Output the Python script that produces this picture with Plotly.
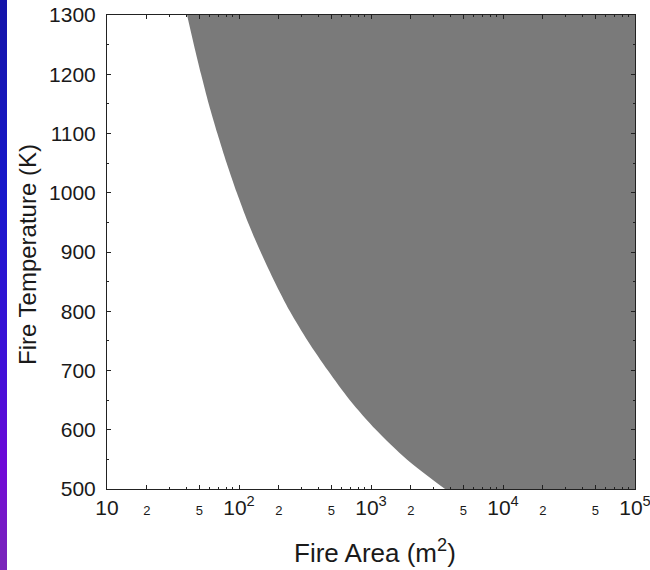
import plotly.graph_objects as go

# Boundary of the shaded region: fire temperature (K) vs minimum fire area (m^2)
temperature_k = [1300, 1250, 1200, 1150, 1100, 1050, 1000, 950, 900,
                 850, 800, 750, 700, 650, 600, 550, 500]
fire_area_m2 = [40.4, 45.5, 51.6, 59, 68.6, 80.7, 96.3, 117, 146,
                186, 243, 332, 472, 692, 1090, 1870, 3640]

area_max = 1e5
temp_range = [500, 1300]

# Tick labels
x_major_vals = [10, 20, 50, 100, 200, 500, 1000, 2000, 5000, 10000, 20000, 50000, 100000]
small = "<span style='font-size:13px'>{}</span>"
x_major_text = ["10", small.format(2), small.format(5),
                "10<sup>2</sup>", small.format(2), small.format(5),
                "10<sup>3</sup>", small.format(2), small.format(5),
                "10<sup>4</sup>", small.format(2), small.format(5),
                "10<sup>5</sup>"]
x_minor_vals = [m * 10 ** d for d in range(1, 5) for m in range(2, 10)]
y_major_vals = [500, 600, 700, 800, 900, 1000, 1100, 1200, 1300]
y_minor_vals = [550, 650, 750, 850, 950, 1050, 1150, 1250]

fig = go.Figure()

# Curve (left edge of the shaded region)
fig.add_trace(go.Scatter(
    x=fire_area_m2, y=temperature_k, mode="lines",
    line=dict(width=0, shape="spline", smoothing=0.8, color="#7a7a7a"),
    hoverinfo="skip", showlegend=False,
))
# Right edge; fill back to the curve
fig.add_trace(go.Scatter(
    x=[area_max] * len(temperature_k), y=temperature_k, mode="lines",
    line=dict(width=0, color="#7a7a7a"),
    fill="tonextx", fillcolor="#7a7a7a",
    hoverinfo="skip", showlegend=False,
))

font = "Liberation Sans, Arial, Helvetica, sans-serif"

L, R, T, B = 107, 15, 15, 81
W, H = 650, 570
pw, ph = W - L - R, H - T - B


def px_x(px):
    return (px - L) / pw


def px_y(py):
    return (H - B - py) / ph


# Blue-violet strip along the left edge of the page
stops = [(0.0, (20, 20, 168)), (0.35, (24, 24, 204)), (0.65, (64, 16, 216)),
         (0.82, (112, 8, 216)), (1.0, (122, 40, 184))]


def strip_colour(f):
    for (f0, c0), (f1, c1) in zip(stops[:-1], stops[1:]):
        if f0 <= f <= f1:
            t = (f - f0) / (f1 - f0)
            return "rgb(%d,%d,%d)" % tuple(round(a + (b - a) * t) for a, b in zip(c0, c1))
    return "rgb(%d,%d,%d)" % stops[-1][1]


n_bands = 57
band = H / n_bands
shapes = []
for i in range(n_bands):
    y0, y1 = i * band, (i + 1) * band
    shapes.append(dict(
        type="rect", xref="paper", yref="paper", layer="below",
        x0=px_x(0), x1=px_x(7), y0=px_y(y1 + 0.5), y1=px_y(y0),
        fillcolor=strip_colour((i + 0.5) / n_bands), line=dict(width=0),
    ))

axis_common = dict(
    ticks="inside", ticklen=4, tickwidth=1, tickcolor="#222",
    showline=True, linecolor="#222", linewidth=1, mirror="ticks",
    showgrid=False, zeroline=False, automargin=False,
    tickfont=dict(size=21), ticklabeloverflow="allow",
)

fig.update_layout(
    width=W, height=H,
    margin=dict(l=L, r=R, t=T, b=B),
    paper_bgcolor="white", plot_bgcolor="white",
    font=dict(family=font, color="#1a1a1a"),
    shapes=shapes,
    xaxis=dict(
        type="log", range=[1, 5],
        tickmode="array", tickvals=x_major_vals, ticktext=x_major_text,
        minor=dict(tickmode="array", tickvals=x_minor_vals, ticks="inside",
                   ticklen=2, tickwidth=1, tickcolor="#222"),
        **axis_common,
    ),
    yaxis=dict(
        range=temp_range,
        tickmode="array", tickvals=y_major_vals,
        minor=dict(tickmode="array", tickvals=y_minor_vals, ticks="inside",
                   ticklen=2, tickwidth=1, tickcolor="#222"),
        ticklabelstandoff=6,
        **axis_common,
    ),
    annotations=[
        dict(text="Fire Area (m<sup>2</sup>)", xref="paper", yref="paper",
             x=px_x(375), y=px_y(551), xanchor="center", yanchor="middle",
             showarrow=False, font=dict(size=26)),
        dict(text="Fire Temperature (K)", xref="paper", yref="paper",
             x=px_x(27), y=px_y(255), xanchor="center", yanchor="middle",
             textangle=-90, showarrow=False, font=dict(size=24)),
    ],
)

fig.write_html("out.html")
